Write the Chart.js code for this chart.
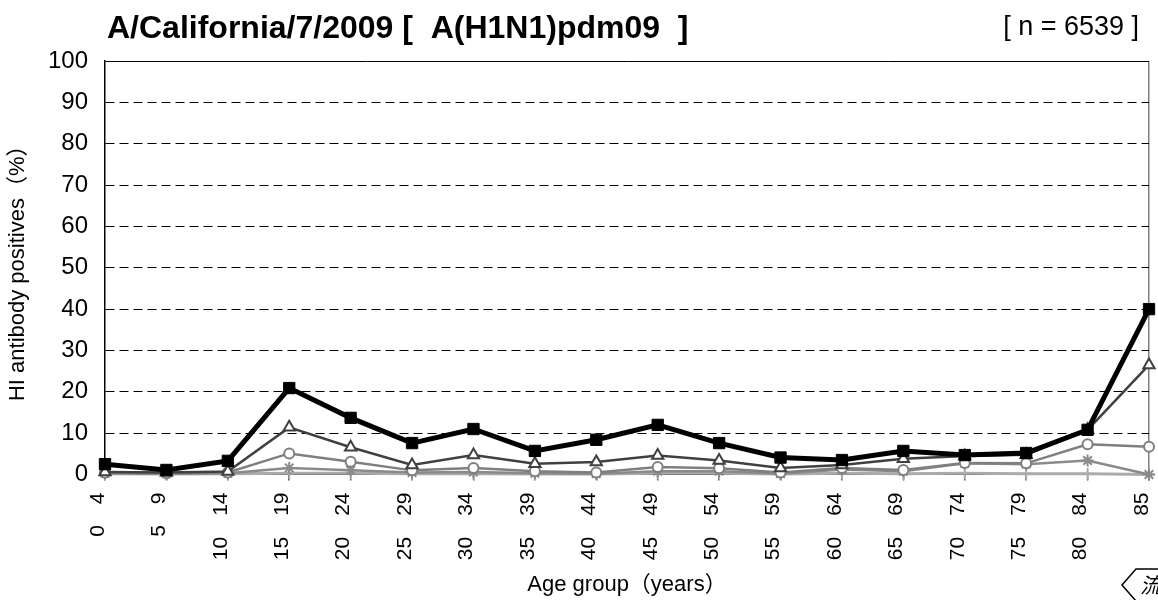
<!DOCTYPE html>
<html>
<head>
<meta charset="utf-8">
<script src="https://cdn.jsdelivr.net/npm/chart.js@4.4.1/dist/chart.umd.min.js"></script>
<style>
  html, body { margin: 0; padding: 0; background: #fff; }
  #wrap { width: 1158px; height: 600px; }
</style>
</head>
<body>
<div id="wrap"><canvas id="myChart" width="1158" height="600"></canvas></div>
<script>
const ageGroups = ["0\u30004", "5\u30009", "10\u300014", "15\u300019", "20\u300024", "25\u300029", "30\u300034", "35\u300039", "40\u300044",
    "45\u300049", "50\u300054", "55\u300059", "60\u300064", "65\u300069", "70\u300074", "75\u300079", "80\u300084", "85"];

const titer40  = [2.5, 1.1, 3.3, 20.9, 13.7, 7.6, 11.0, 5.7, 8.4, 12.0, 7.6, 4.1, 3.5, 5.7, 4.7, 5.2, 10.8, 40.0];
const titer80  = [0.6, 0.5, 0.7, 11.4, 6.6, 2.3, 4.7, 2.6, 3.0, 4.6, 3.4, 1.6, 2.3, 3.8, 4.5, 4.8, 10.8, 26.5];
const titer160 = [0.4, 0.3, 0.5, 5.1, 3.1, 1.0, 1.6, 0.8, 0.5, 1.8, 1.5, 0.5, 1.6, 1.1, 2.8, 2.7, 7.3, 6.7];
const titer320 = [0.3, 0.2, 0.3, 1.6, 1.0, 0.5, 0.6, 0.3, 0.2, 0.8, 0.8, 0.2, 1.2, 0.8, 2.7, 2.5, 3.4, 0];
const titer640 = [0.2, 0.1, 0.2, 0.3, 0.3, 0.2, 0.2, 0.1, 0.1, 0.3, 0.3, 0.1, 0.3, 0.2, 0.3, 0.2, 0.2, 0];

const yTicks = [0, 10, 20, 30, 40, 50, 60, 70, 80, 90, 100];

const FONT = "'Liberation Sans', Arial, 'Noto Sans CJK JP', sans-serif";

// title, n label and the small badge in the corner
const extraText = {
    id: 'extraText',
    afterDraw(chart) {
        const c = chart.ctx;
        c.save();
        c.fillStyle = '#000';
        c.textBaseline = 'alphabetic';
        c.font = "bold 32px " + FONT;
        c.textAlign = 'left';
        c.fillText('A/California/7/2009 [  A(H1N1)pdm09  ]', 107, 38);
        c.font = "27px " + FONT;
        c.textAlign = 'right';
        c.fillText('[ n = 6539 ]', 1139, 35);

        c.strokeStyle = '#000';
        c.lineWidth = 1.5;
        c.beginPath();
        c.moveTo(1160, 569);
        c.lineTo(1136, 569);
        c.lineTo(1122, 585);
        c.lineTo(1136, 601);
        c.lineTo(1160, 601);
        c.stroke();
        c.font = "italic 21px 'Noto Sans CJK JP', sans-serif";
        c.textAlign = 'left';
        c.fillText('\u6d41', 1140, 593);
        c.restore();
    }
};

const ctx = document.getElementById('myChart').getContext('2d');
const chart = new Chart(ctx, {
    type: 'line',
    data: {
        labels: ageGroups,
        datasets: [
            { label: '\u22671:40', data: titer40, borderColor: '#000', backgroundColor: '#000',
              borderWidth: 5, pointStyle: 'rect', pointRadius: 8, pointBorderWidth: 1 },
            { label: '\u22671:80', data: titer80, borderColor: '#404040', backgroundColor: '#fff',
              borderWidth: 2.5, pointStyle: 'triangle', pointRadius: 6.5, pointBorderWidth: 2 },
            { label: '\u22671:160', data: titer160, borderColor: '#7f7f7f', backgroundColor: '#fff',
              borderWidth: 2.5, pointStyle: 'circle', pointRadius: 5, pointBorderWidth: 2 },
            { label: '\u22671:320', data: titer320, borderColor: '#8a8a8a', backgroundColor: '#8a8a8a',
              borderWidth: 2.5, pointStyle: 'star', pointRadius: 6, pointBorderWidth: 2 },
            { label: '\u22671:640', data: titer640, borderColor: '#ababab', backgroundColor: '#ababab',
              borderWidth: 3, pointStyle: 'cross', pointRadius: 6, pointBorderWidth: 2 }
        ].map(d => Object.assign(d, { tension: 0, clip: false, fill: false }))
    },
    options: {
        responsive: false,
        animation: false,
        layout: { padding: { top: 61, right: 9, bottom: 0, left: 0 } },
        plugins: {
            legend: { display: false },
            tooltip: { enabled: false }
        },
        scales: {
            x: {
                offset: false,
                grid: {
                    color: c => c.index === ageGroups.length - 1 ? '#808080' : 'rgba(0,0,0,0)',
                    lineWidth: 1.5,
                    drawTicks: true,
                    tickLength: 6,
                    tickColor: '#000',
                    tickWidth: 1
                },
                border: { display: true, color: '#000', width: 1 },
                ticks: {
                    minRotation: 90,
                    maxRotation: 90,
                    autoSkip: false,
                    padding: 12,
                    labelOffset: -7,
                    color: '#000',
                    font: { family: FONT, size: 21 }
                },
                title: {
                    display: true,
                    text: 'Age group\uff08years\uff09',
                    color: '#000',
                    font: { family: FONT, size: 22 },
                    padding: { top: 0, bottom: 2 }
                },
                afterFit: s => { s.height = 125.5; s.paddingLeft = 0; s.paddingRight = 0; }
            },
            y: {
                min: 0,
                max: 100,
                afterBuildTicks: s => { s.ticks = yTicks.map(v => ({ value: v })); },
                grid: {
                    color: '#000',
                    lineWidth: 1,
                    drawTicks: false
                },
                border: {
                    display: true,
                    color: '#000',
                    width: 1.5,
                    dash: c => (c.tick && c.tick.value > 0 && c.tick.value < 100) ? [9, 5] : []
                },
                ticks: {
                    padding: 17,
                    color: '#000',
                    font: { family: FONT, size: 24 }
                },
                title: {
                    display: true,
                    text: 'HI antibody positives\uff08%\uff09',
                    color: '#000',
                    font: { family: FONT, size: 22 },
                    padding: { top: 5, bottom: 0 }
                },
                afterFit: s => { s.width = 105; s.paddingTop = 0; s.paddingBottom = 0; }
            }
        }
    },
    plugins: [extraText]
});
</script>
</body>
</html>
